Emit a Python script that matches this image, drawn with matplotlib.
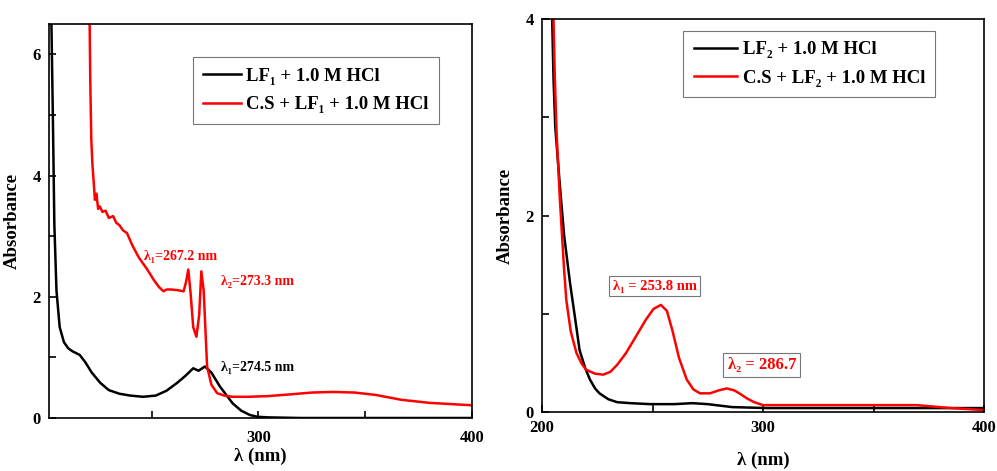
import numpy as np
import matplotlib
matplotlib.use("Agg")
import matplotlib.pyplot as plt

plt.rcParams['font.family'] = ['Liberation Serif', 'DejaVu Serif']
plt.rcParams['font.weight'] = 'bold'

# left panel: LF1
lf1_wl = [203.0, 203.8, 204.5, 205.5, 207, 209, 211, 213, 216.4, 219, 222, 226, 230, 235, 240, 246,
          252, 257, 262, 266, 269.5, 272, 275, 278, 282, 285, 288, 292, 296, 299.5, 305, 320, 350, 380, 400]
lf1_abs = [6.8, 5.0, 3.2, 2.1, 1.5, 1.25, 1.15, 1.1, 1.04, 0.92, 0.75, 0.58, 0.46, 0.40, 0.37, 0.35,
           0.37, 0.45, 0.58, 0.70, 0.82, 0.78, 0.85, 0.75, 0.52, 0.38, 0.24, 0.12, 0.05, 0.02, 0.01, 0.0, 0.0, 0.0, 0.0]
cs1_wl = [221.0, 221.3, 221.8, 222.3, 222.8, 223.5, 224.2, 225.0, 225.8, 227, 228.5, 230, 232, 233.5, 235, 236.5,
          238.5, 241, 244, 248, 251, 253.5, 255.6, 257, 259, 262, 265, 266.2, 267.2, 268.3, 269.5, 271, 272.3,
          273.3, 274.4, 276, 278, 280.7, 284, 288, 295, 304, 315, 325, 335, 345, 355, 367, 380, 390, 400]
cs1_abs = [6.6, 5.6, 4.6, 4.2, 3.95, 3.6, 3.7, 3.45, 3.49, 3.40, 3.42, 3.30, 3.33, 3.22, 3.18, 3.10,
           3.05, 2.85, 2.65, 2.45, 2.28, 2.16, 2.09, 2.12, 2.12, 2.11, 2.09, 2.25, 2.45, 2.05, 1.50, 1.34, 1.70,
           2.42, 2.10, 0.85, 0.55, 0.41, 0.37, 0.35, 0.35, 0.36, 0.39, 0.42, 0.43, 0.42, 0.38, 0.30, 0.25, 0.23, 0.21]

# right panel: LF2
lf2_wl = [204.4, 205.2, 206, 208, 210, 212.7, 215, 217, 219.5, 221.7, 224, 226, 230, 234, 240, 249,
          260, 268, 275, 286, 301.6, 330, 360, 400]
lf2_abs = [4.2, 3.4, 2.9, 2.33, 1.8, 1.31, 0.95, 0.63, 0.45, 0.33, 0.24, 0.19, 0.13, 0.10, 0.09, 0.08,
           0.08, 0.09, 0.08, 0.05, 0.04, 0.04, 0.04, 0.04]
cs2_wl = [205.0, 205.8, 206.6, 208, 209, 210, 211, 213, 215.6, 218, 220, 224, 227.7, 231, 234, 238, 242,
          247, 250.5, 253.8, 256.5, 259, 262, 265.5, 268.5, 271.5, 276, 280, 283.6, 287, 290, 292.6, 296,
          300, 310, 330, 350, 369.5, 385, 400]
cs2_abs = [4.2, 3.4, 2.84, 2.2, 1.82, 1.45, 1.14, 0.82, 0.60, 0.49, 0.43, 0.39, 0.38, 0.41, 0.48, 0.60, 0.75,
           0.94, 1.05, 1.09, 1.03, 0.83, 0.55, 0.33, 0.23, 0.19, 0.19, 0.22, 0.24, 0.22, 0.18, 0.14, 0.10,
           0.07, 0.07, 0.07, 0.07, 0.07, 0.04, 0.02]

W, H = 997, 471
fig = plt.figure(figsize=(W / 100, H / 100), dpi=100)
ax1 = fig.add_axes([49 / W, (H - 418) / H, 423 / W, 394 / H])
ax2 = fig.add_axes([542 / W, (H - 412) / H, 442 / W, 393 / H])

def style_axes(ax):
    for s in ax.spines.values():
        s.set_linewidth(1.2)
    ax.tick_params(direction='in', which='major', length=5, width=1.2, labelsize=12, pad=6)
    ax.tick_params(direction='in', which='minor', length=5, width=1.2)
    for lab in ax.get_xticklabels() + ax.get_yticklabels():
        lab.set_fontweight('bold')
    ax.set_ylabel('Absorbance', fontsize=13.5, fontweight='bold')
    ax.set_xlabel('λ (nm)', fontsize=13.5, fontweight='bold')

ax1.plot(lf1_wl, lf1_abs, color='black', lw=1.8, label='LF₁ + 1.0 M HCl')
ax1.plot(cs1_wl, cs1_abs, color='#ff0000', lw=1.8, label='C.S + LF₁ + 1.0 M HCl')
ax1.set_xlim(202, 400)
ax1.set_ylim(0, 6.5)
ax1.set_xticks([300, 400])
ax1.set_xticks([250, 350], minor=True)
ax1.set_yticks([0, 2, 4, 6])
ax1.set_yticks([1, 3, 5], minor=True)
style_axes(ax1)
ax1.tick_params(axis='x', which='major', pad=9)
ax1.xaxis.labelpad = 1
ax1.yaxis.labelpad = 8
leg1 = ax1.legend(loc='upper left', bbox_to_anchor=(0.34, 0.915), fontsize=13.5, frameon=True,
                  fancybox=False, edgecolor='#555555', handlelength=2.0, borderpad=0.55,
                  labelspacing=0.6, handletextpad=0.3, borderaxespad=0)
leg1.get_frame().set_linewidth(0.8)
for t in leg1.get_texts():
    t.set_fontweight('bold')

ax1.text(246.5, 2.66, 'λ₁=267.2 nm', color='#ff0000', fontsize=10, fontweight='bold', va='center')
ax1.text(282.5, 2.25, 'λ₂=273.3 nm', color='#ff0000', fontsize=10, fontweight='bold', va='center')
ax1.text(282.5, 0.84, 'λ₁=274.5 nm', color='black', fontsize=10, fontweight='bold', va='center')

ax2.plot(lf2_wl, lf2_abs, color='black', lw=1.8, label='LF₂ + 1.0 M HCl')
ax2.plot(cs2_wl, cs2_abs, color='#ff0000', lw=1.8, label='C.S + LF₂ + 1.0 M HCl')
ax2.set_xlim(200, 400)
ax2.set_ylim(0, 4)
ax2.set_xticks([200, 300, 400])
ax2.set_xticks([250, 350], minor=True)
ax2.set_yticks([0, 2, 4])
ax2.set_yticks([1, 3], minor=True)
style_axes(ax2)
ax2.xaxis.labelpad = 11
ax2.yaxis.labelpad = 8
leg2 = ax2.legend(loc='upper left', bbox_to_anchor=(0.32, 0.97), fontsize=13.5, frameon=True,
                  fancybox=False, edgecolor='#555555', handlelength=2.3, borderpad=0.55,
                  labelspacing=0.6, handletextpad=0.3, borderaxespad=0)
leg2.get_frame().set_linewidth(0.8)
for t in leg2.get_texts():
    t.set_fontweight('bold')

box = dict(boxstyle='square,pad=0.25', facecolor='white', edgecolor='#777777', linewidth=0.8)
ax2.text(251, 1.28, 'λ₁ = 253.8 nm', color='#ff0000', fontsize=10.5, fontweight='bold',
         ha='center', va='center', bbox=box)
ax2.text(299.5, 0.48, 'λ₂ = 286.7', color='#ff0000', fontsize=12, fontweight='bold',
         ha='center', va='center', bbox=box)

fig.savefig('out.png', dpi=100)
